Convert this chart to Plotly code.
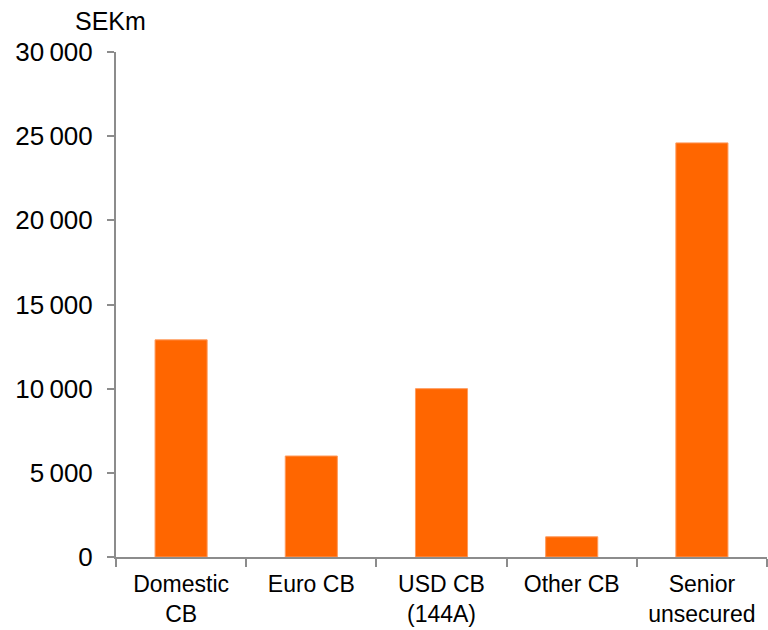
import plotly.graph_objects as go

# Funding categories and outstanding volumes (SEKm)
categories = ["Domestic<br>CB", "Euro CB", "USD CB<br>(144A)", "Other CB", "Senior<br>unsecured"]
volumes = [12900, 6000, 10000, 1200, 24600]

# Y axis ticks
y_tick_values = [0, 5000, 10000, 15000, 20000, 25000, 30000]
y_tick_labels = ["0", "5\u2009000", "10\u2009000", "15\u2009000", "20\u2009000", "25\u2009000", "30\u2009000"]

FONT = "Liberation Sans, Arial, sans-serif"
AXIS_GREY = "#8c8c8c"

fig = go.Figure(
    go.Bar(
        x=categories,
        y=volumes,
        width=0.4,
        marker=dict(color="#FF6600", line=dict(color="#FF9a5c", width=1)),
        hoverinfo="x+y",
    )
)

fig.update_layout(
    width=768,
    height=630,
    margin=dict(l=116, r=1, t=52, b=73),
    paper_bgcolor="white",
    plot_bgcolor="white",
    showlegend=False,
    font=dict(family=FONT, size=25, color="black"),
    annotations=[
        dict(
            text="SEKm",
            xref="paper",
            yref="paper",
            x=-0.0077,
            y=1.0,
            xanchor="center",
            yanchor="bottom",
            yshift=15,
            showarrow=False,
            font=dict(family=FONT, size=25, color="black"),
        )
    ],
)

fig.update_xaxes(
    type="category",
    automargin=False,
    showline=True,
    linecolor=AXIS_GREY,
    linewidth=2,
    ticks="outside",
    tickson="boundaries",
    ticklen=8,
    tickwidth=2,
    tickcolor=AXIS_GREY,
    showgrid=False,
    ticklabelstandoff=5,
    tickfont=dict(family=FONT, size=23, color="black"),
)

fig.update_yaxes(
    range=[0, 30000],
    automargin=False,
    tickvals=y_tick_values,
    ticktext=y_tick_labels,
    showline=True,
    linecolor=AXIS_GREY,
    linewidth=2,
    ticks="outside",
    ticklen=7,
    tickwidth=2,
    tickcolor=AXIS_GREY,
    showgrid=False,
    zeroline=False,
    ticklabelstandoff=9,
    tickfont=dict(family=FONT, size=26, color="black"),
)

fig.write_html("out.html")
